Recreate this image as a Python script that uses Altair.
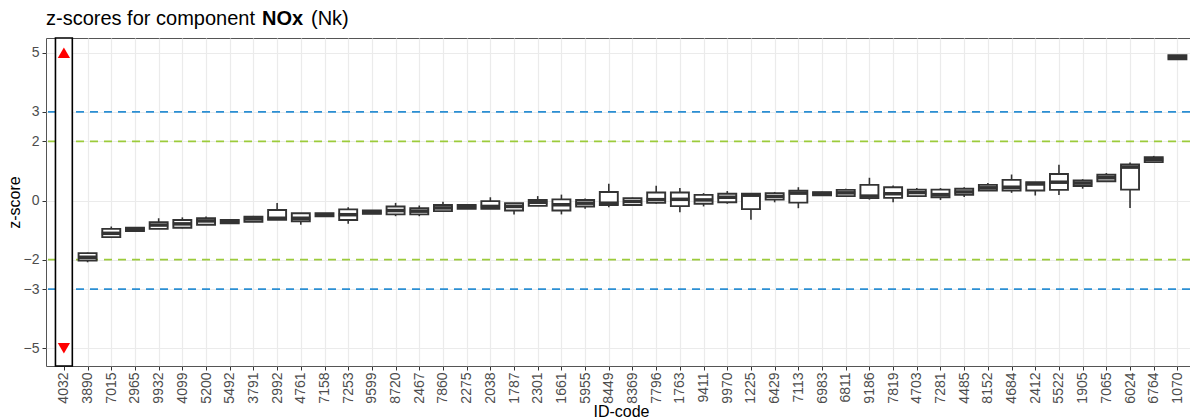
import altair as alt
import pandas as pd

# ---------------- data ----------------
ids = ["4032", "3890", "7015", "2965", "9932", "4099", "5200", "5492", "3791", "2992",
       "4761", "7158", "7253", "9599", "8720", "2467", "7860", "2275", "2038", "1787",
       "2301", "1661", "5955", "8449", "8369", "7796", "1763", "9411", "9970", "1225",
       "6429", "7113", "6983", "6811", "9186", "7819", "4703", "7281", "4485", "8152",
       "4684", "2412", "5522", "1905", "7065", "6024", "6764", "1070"]

box_ids = ids[1:]
q1 = [-2.03, -1.24, -1.03, -0.96, -0.92, -0.82, -0.77, -0.72, -0.65, -0.70,
      -0.53, -0.66, -0.45, -0.47, -0.47, -0.36, -0.28, -0.28, -0.34, -0.18,
      -0.34, -0.20, -0.15, -0.15, -0.08, -0.19, -0.11, -0.06, -0.29, 0.03,
      -0.07, 0.18, 0.15, 0.08, 0.09, 0.15, 0.11, 0.19, 0.34, 0.34,
      0.34, 0.36, 0.49, 0.65, 0.37, 1.30, 4.78]
median = [-1.92, -1.11, -0.97, -0.83, -0.79, -0.69, -0.71, -0.62, -0.60, -0.60,
          -0.48, -0.48, -0.40, -0.34, -0.36, -0.25, -0.21, -0.20, -0.20, -0.06,
          -0.14, -0.09, -0.09, -0.03, 0.03, 0.04, 0.02, 0.11, 0.18, 0.14,
          0.25, 0.24, 0.26, 0.15, 0.23, 0.27, 0.20, 0.29, 0.43, 0.45,
          0.56, 0.62, 0.59, 0.77, 1.13, 1.39, 4.85]
q3 = [-1.78, -0.96, -0.92, -0.73, -0.66, -0.60, -0.66, -0.55, -0.32, -0.43,
      -0.43, -0.30, -0.34, -0.20, -0.26, -0.15, -0.15, -0.02, -0.09, 0.02,
      0.04, 0.02, 0.29, 0.08, 0.27, 0.27, 0.19, 0.23, 0.23, 0.25,
      0.33, 0.28, 0.36, 0.53, 0.45, 0.37, 0.37, 0.40, 0.53, 0.70,
      0.62, 0.90, 0.68, 0.87, 1.22, 1.47, 4.92]
lower = [-2.09, -1.27, -1.05, -0.96, -0.94, -0.82, -0.77, -0.72, -0.65, -0.82,
         -0.53, -0.79, -0.45, -0.53, -0.53, -0.36, -0.28, -0.28, -0.47, -0.18,
         -0.47, -0.28, -0.23, -0.17, -0.11, -0.40, -0.20, -0.11, -0.65, -0.06,
         -0.26, 0.16, 0.15, 0.03, -0.06, 0.12, 0.02, 0.12, 0.34, 0.26,
         0.17, 0.19, 0.40, 0.65, -0.25, 1.27, 4.78]
upper = [-1.76, -0.88, -0.90, -0.60, -0.57, -0.54, -0.66, -0.52, -0.08, -0.43,
         -0.43, -0.23, -0.34, -0.08, -0.17, -0.04, -0.15, 0.11, -0.09, 0.15,
         0.20, 0.07, 0.57, 0.10, 0.50, 0.42, 0.25, 0.32, 0.23, 0.29,
         0.45, 0.30, 0.40, 0.77, 0.51, 0.42, 0.42, 0.45, 0.59, 0.88,
         0.62, 1.21, 0.72, 0.93, 1.29, 1.51, 4.92]

highlight_id = "4032"
flag_values = [5, -5]
flag_shapes = ["triangle-up", "triangle-down"]

limit_values = [3, -3, 2, -2]
limit_colors = ["#2b8fd3", "#2b8fd3", "#9ccb3b", "#9ccb3b"]

y_ticks = [-5, -3, -2, 0, 2, 3, 5]

title_prefix = "z-scores for component"
title_component = "NOx"
title_suffix = "(Nk)"

# ---------------- tables ----------------
pos = {c: i for i, c in enumerate(ids)}
box_df = pd.DataFrame({
    "id": box_ids, "pos": [pos[c] for c in box_ids],
    "q1": q1, "median": median, "q3": q3, "lower": lower, "upper": upper,
})
hl_df = pd.DataFrame({"pos": [pos[highlight_id]]})
flag_df = pd.DataFrame({"pos": [pos[highlight_id]] * len(flag_values),
                        "val": flag_values, "shape": flag_shapes})
lim_df = pd.DataFrame({"val": limit_values, "col": limit_colors})

W, H = 1144, 328
FONT = "Liberation Sans"
DARK = "#333333"

label_expr = "[" + ",".join("'%s'" % c for c in ids) + "][datum.value]"
xscale = alt.Scale(domain=[-0.544, 47.32], nice=False, zero=False)
yscale = alt.Scale(domain=[-5.6, 5.5], nice=False, zero=False)

x_axis = alt.Axis(values=list(range(len(ids))), labelExpr=label_expr, labelAngle=270,
                  labelFontSize=14, labelColor="#4d4d4d", labelFont=FONT,
                  labelPadding=2, labelFlush=False, labelOverlap=False, labelBound=False,
                  tickColor=DARK, tickSize=4, domain=False,
                  grid=True, gridColor="#ebebeb", gridWidth=1.2,
                  title="ID-code", titleFont=FONT, titleFontSize=16, titleFontWeight="normal",
                  titleColor="black", titleX=575, titleY=50, titleBaseline="alphabetic",
                  titleAnchor="middle")
y_axis = alt.Axis(values=y_ticks, labelFontSize=14, labelColor="#4d4d4d", labelFont=FONT,
                  labelPadding=3, tickColor=DARK, tickSize=4, domain=False,
                  grid=True, gridColor="#ebebeb", gridWidth=1.2,
                  title="z-score", titleFont=FONT, titleFontSize=16, titleFontWeight="normal",
                  titleColor="black", titleX=-27, titleY=H / 2, titleAngle=270,
                  titleBaseline="alphabetic", titleAlign="center")


def X(field):
    return alt.X(field, scale=xscale, axis=x_axis)


def Y(field):
    return alt.Y(field, scale=yscale, axis=y_axis)


limits = alt.Chart(lim_df).mark_rule(strokeDash=[8, 6], strokeWidth=1.6).encode(
    y=Y("val:Q"),
    color=alt.Color("col:N", scale=None),
)

highlight = alt.Chart(hl_df).transform_calculate(
    x1="datum.pos - 0.356", x2="datum.pos + 0.356"
).mark_rect(fill="white", stroke="black", strokeWidth=1.6).encode(
    x=X("x1:Q"),
    x2="x2:Q",
    y=alt.value(0),
    y2=alt.value(H),
)

flags = alt.Chart(flag_df).mark_point(filled=True, color="#ff0000", size=150, opacity=1).encode(
    x=X("pos:Q"),
    y=Y("val:Q"),
    shape=alt.Shape("shape:N", scale=None),
)

whiskers = alt.Chart(box_df).mark_rule(color=DARK, strokeWidth=1.6).encode(
    x=X("pos:Q"),
    y=Y("lower:Q"),
    y2="upper:Q",
)

boxes = alt.Chart(box_df).mark_bar(size=18, fill="white", stroke=DARK, strokeWidth=1.9).encode(
    x=X("pos:Q"),
    y=Y("q1:Q"),
    y2="q3:Q",
)

medians = alt.Chart(box_df).mark_tick(orient="horizontal", size=19, thickness=3.5, color=DARK,
                                      opacity=1).encode(
    x=X("pos:Q"),
    y=Y("median:Q"),
)

t1 = alt.Chart(pd.DataFrame({"t": [title_prefix]})).mark_text(
    align="left", baseline="alphabetic", font=FONT, fontSize=20, color="black"
).encode(x=alt.value(0), y=alt.value(-13), text="t:N")
t2 = alt.Chart(pd.DataFrame({"t": [title_component]})).mark_text(
    align="left", baseline="alphabetic", font=FONT, fontSize=20, fontWeight="bold", color="black"
).encode(x=alt.value(216), y=alt.value(-13), text="t:N")
t3 = alt.Chart(pd.DataFrame({"t": [title_suffix]})).mark_text(
    align="left", baseline="alphabetic", font=FONT, fontSize=20, color="black"
).encode(x=alt.value(265), y=alt.value(-13), text="t:N")

chart = alt.layer(limits, highlight, flags, whiskers, boxes, medians, t1, t2, t3).properties(
    width=W, height=H, autosize="none",
    padding={"left": 46, "top": 38, "right": 0, "bottom": 53},
    background="white",
).configure_view(stroke="#555555", strokeWidth=1)

chart.save("out.html", embed_options={"renderer": "svg", "actions": False})
